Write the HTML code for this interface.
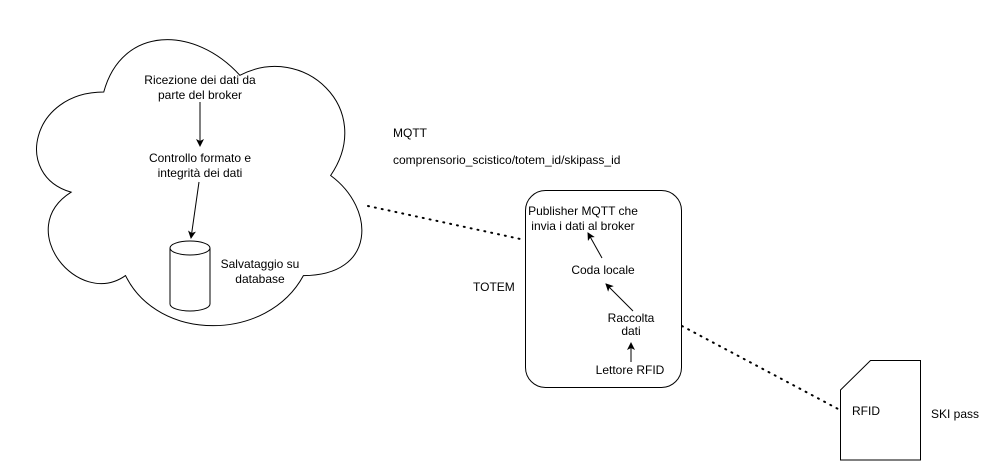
<!DOCTYPE html>
<html><head><meta charset="utf-8"><style>
body{margin:0;background:#fff}
svg text{font-family:"Liberation Sans",sans-serif;font-size:12px;fill:#000}
</style></head><body>
<svg width="981" height="461" viewBox="0 0 981 461" xmlns="http://www.w3.org/2000/svg">
<defs><marker id="a" markerWidth="8" markerHeight="8" refX="7" refY="4" orient="auto" markerUnits="userSpaceOnUse"><path d="M0,0 L8,4 L0,8 L2,4 Z" fill="#000"/></marker></defs>
<g transform="translate(13,8.6) scale(1,0.973)">
<path d="M90.75 85.75 C18.15 85.75 0 171.5 58.08 188.65 C0 226.38 65.34 308.7 112.53 274.4 C145.2 343 254.1 343 290.4 274.4 C363 274.4 363 205.8 317.63 171.5 C363 102.9 290.4 34.3 226.88 68.6 C181.5 17.15 108.9 17.15 90.75 85.75 Z" fill="#fff" stroke="#000" stroke-width="1" vector-effect="non-scaling-stroke"/>
</g>
<text x="200" y="84" text-anchor="middle">Ricezione dei dati da</text>
<text x="200" y="99" text-anchor="middle">parte del broker</text>
<line x1="200" y1="102" x2="200" y2="146" stroke="#000" marker-end="url(#a)"/>
<text x="200" y="162" text-anchor="middle">Controllo formato e</text>
<text x="200" y="177" text-anchor="middle">integrità dei dati</text>
<line x1="199" y1="182" x2="191" y2="238" stroke="#000" marker-end="url(#a)"/>
<path d="M170 248 A20 7 0 0 1 210 248 L210 304 A20 7 0 0 1 170 304 Z" fill="#fff" stroke="#000"/>
<path d="M170 248 A20 7 0 0 0 210 248" fill="none" stroke="#000"/>
<text x="260" y="268" text-anchor="middle">Salvataggio su</text>
<text x="260" y="283" text-anchor="middle">database</text>
<text x="393" y="137">MQTT</text>
<text x="393" y="164">comprensorio_scistico/totem_id/skipass_id</text>
<line x1="368" y1="206" x2="525" y2="240" stroke="#000" stroke-width="2" stroke-dasharray="1 6" stroke-linecap="round"/>
<text x="473" y="291">TOTEM</text>
<rect x="525.5" y="190.5" width="156" height="197" rx="20" fill="#fff" stroke="#000"/>
<text x="583" y="215" text-anchor="middle">Publisher MQTT che</text>
<text x="583" y="230" text-anchor="middle">invia i dati al broker</text>
<line x1="602" y1="258" x2="588" y2="233" stroke="#000" marker-end="url(#a)"/>
<text x="603" y="274" text-anchor="middle">Coda locale</text>
<line x1="633" y1="311" x2="606" y2="284" stroke="#000" marker-end="url(#a)"/>
<text x="631" y="322" text-anchor="middle">Raccolta</text>
<text x="631" y="335" text-anchor="middle">dati</text>
<line x1="631" y1="362" x2="631" y2="343" stroke="#000" marker-end="url(#a)"/>
<text x="630" y="374" text-anchor="middle">Lettore RFID</text>
<line x1="682" y1="326" x2="840" y2="410" stroke="#000" stroke-width="2" stroke-dasharray="1 6" stroke-linecap="round"/>
<path d="M840.5 390 L870.5 360.5 L920.5 360.5 L920.5 460 L840.5 460 Z" fill="#fff" stroke="#000"/>
<text x="866" y="415" text-anchor="middle">RFID</text>
<text x="955" y="418" text-anchor="middle">SKI pass</text>
</svg>
</body></html>
